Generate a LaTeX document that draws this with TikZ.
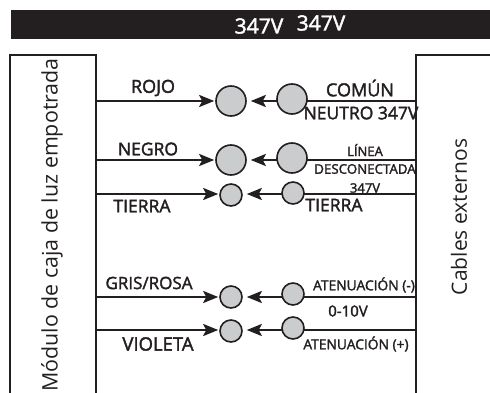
\documentclass[tikz,border=0pt]{standalone}
\usepackage{fontspec}
\setmainfont{Open Sans}
\newfontfamily\semi{Open Sans}[FakeBold=2]
\usetikzlibrary{arrows.meta,backgrounds}
\definecolor{ink}{HTML}{231F20}
\definecolor{disc}{HTML}{CBCCCE}
\tikzset{
  wire/.style={draw=ink,line width=2.3pt},
  feed/.style={wire,-{Stealth[length=15pt,width=12pt,inset=3pt]},shorten >=1pt},
  big/.style={circle,draw=ink,fill=disc,line width=1.6pt,minimum size=30pt,inner sep=0pt},
  small/.style={circle,draw=ink,fill=disc,line width=1.6pt,minimum size=22pt,inner sep=0pt},
  lab/.style={text=ink,inner sep=0pt,font=\fontsize{#1}{#1}\semi},
  side/.style={text=ink,inner sep=0pt,rotate=90,font=\fontsize{#1}{#1}\selectfont}
}
\begin{document}
\begin{tikzpicture}[x=1pt,y=-1pt]
\useasboundingbox (0,0) rectangle (490,393);
\fill[ink] (11,10) rectangle (490,39);
\node[lab=21,text=white] (v1) at (259,26) {347V};
\node[lab=21,text=white] (v2) at (321,23) {347V};
\draw[wire] (10,393) -- (10,55) -- (96,55) -- (96,393);
\draw[wire] (416,393) -- (416,55) -- (490,55);
\node[side=21.4] (lbox) at (52,225) {Módulo de caja de luz empotrada};
\node[side=21] (rbox) at (459,217) {Cables externos};
\foreach \n/\y in {1/101,2/160,3/194,4/297,5/330}{
  \coordinate (L\n) at (96,\y);
  \coordinate (R\n) at (416,\y);
}
\node[big] (a1) at (231,101) {};
\node[big] (a2) at (231,160) {};
\node[small] (a3) at (231,195) {};
\node[small] (a4) at (231,297) {};
\node[small] (a5) at (231,331) {};
\node[big] (b1) at (292,99) {};
\node[big] (b2) at (292,158) {};
\node[small] (b3) at (293,193) {};
\node[small] (b4) at (293,294) {};
\node[small] (b5) at (293,328) {};
\begin{scope}[on background layer]
\foreach \n in {1,...,5}{
  \draw[feed] (L\n) -- (a\n.west |- L\n);
  \draw[feed] (R\n) -- ([xshift=3pt]a\n.east |- R\n);
}
\end{scope}
\node[lab=18] (t1) at (153,88) {ROJO};
\node[lab=17.5] (t2) at (148,149) {NEGRO};
\node[lab=17.5] (t3) at (142,206) {TIERRA};
\node[lab=17] (t4) at (149,283) {GRIS/ROSA};
\node[lab=18.5] (t5) at (158,344) {VIOLETA};
\node[lab=18] (t6) at (360,88) {COMÚN};
\node[lab=17.5] (t7) at (361,113) {NEUTRO 347V};
\node[lab=13] (t8) at (365,150) {LÍNEA};
\node[lab=13.3] (t9) at (365,169) {DESCONECTADA};
\node[lab=13] (t10) at (365,188) {347V};
\node[lab=17.5] (t11) at (334,205) {TIERRA};
\node[lab=13.8] (t12) at (364,285) {ATENUACIÓN (-)};
\node[lab=15] (t13) at (348,311) {0-10V};
\node[lab=13.8] (t14) at (356,344) {ATENUACIÓN (+)};
\end{tikzpicture}
\end{document}
